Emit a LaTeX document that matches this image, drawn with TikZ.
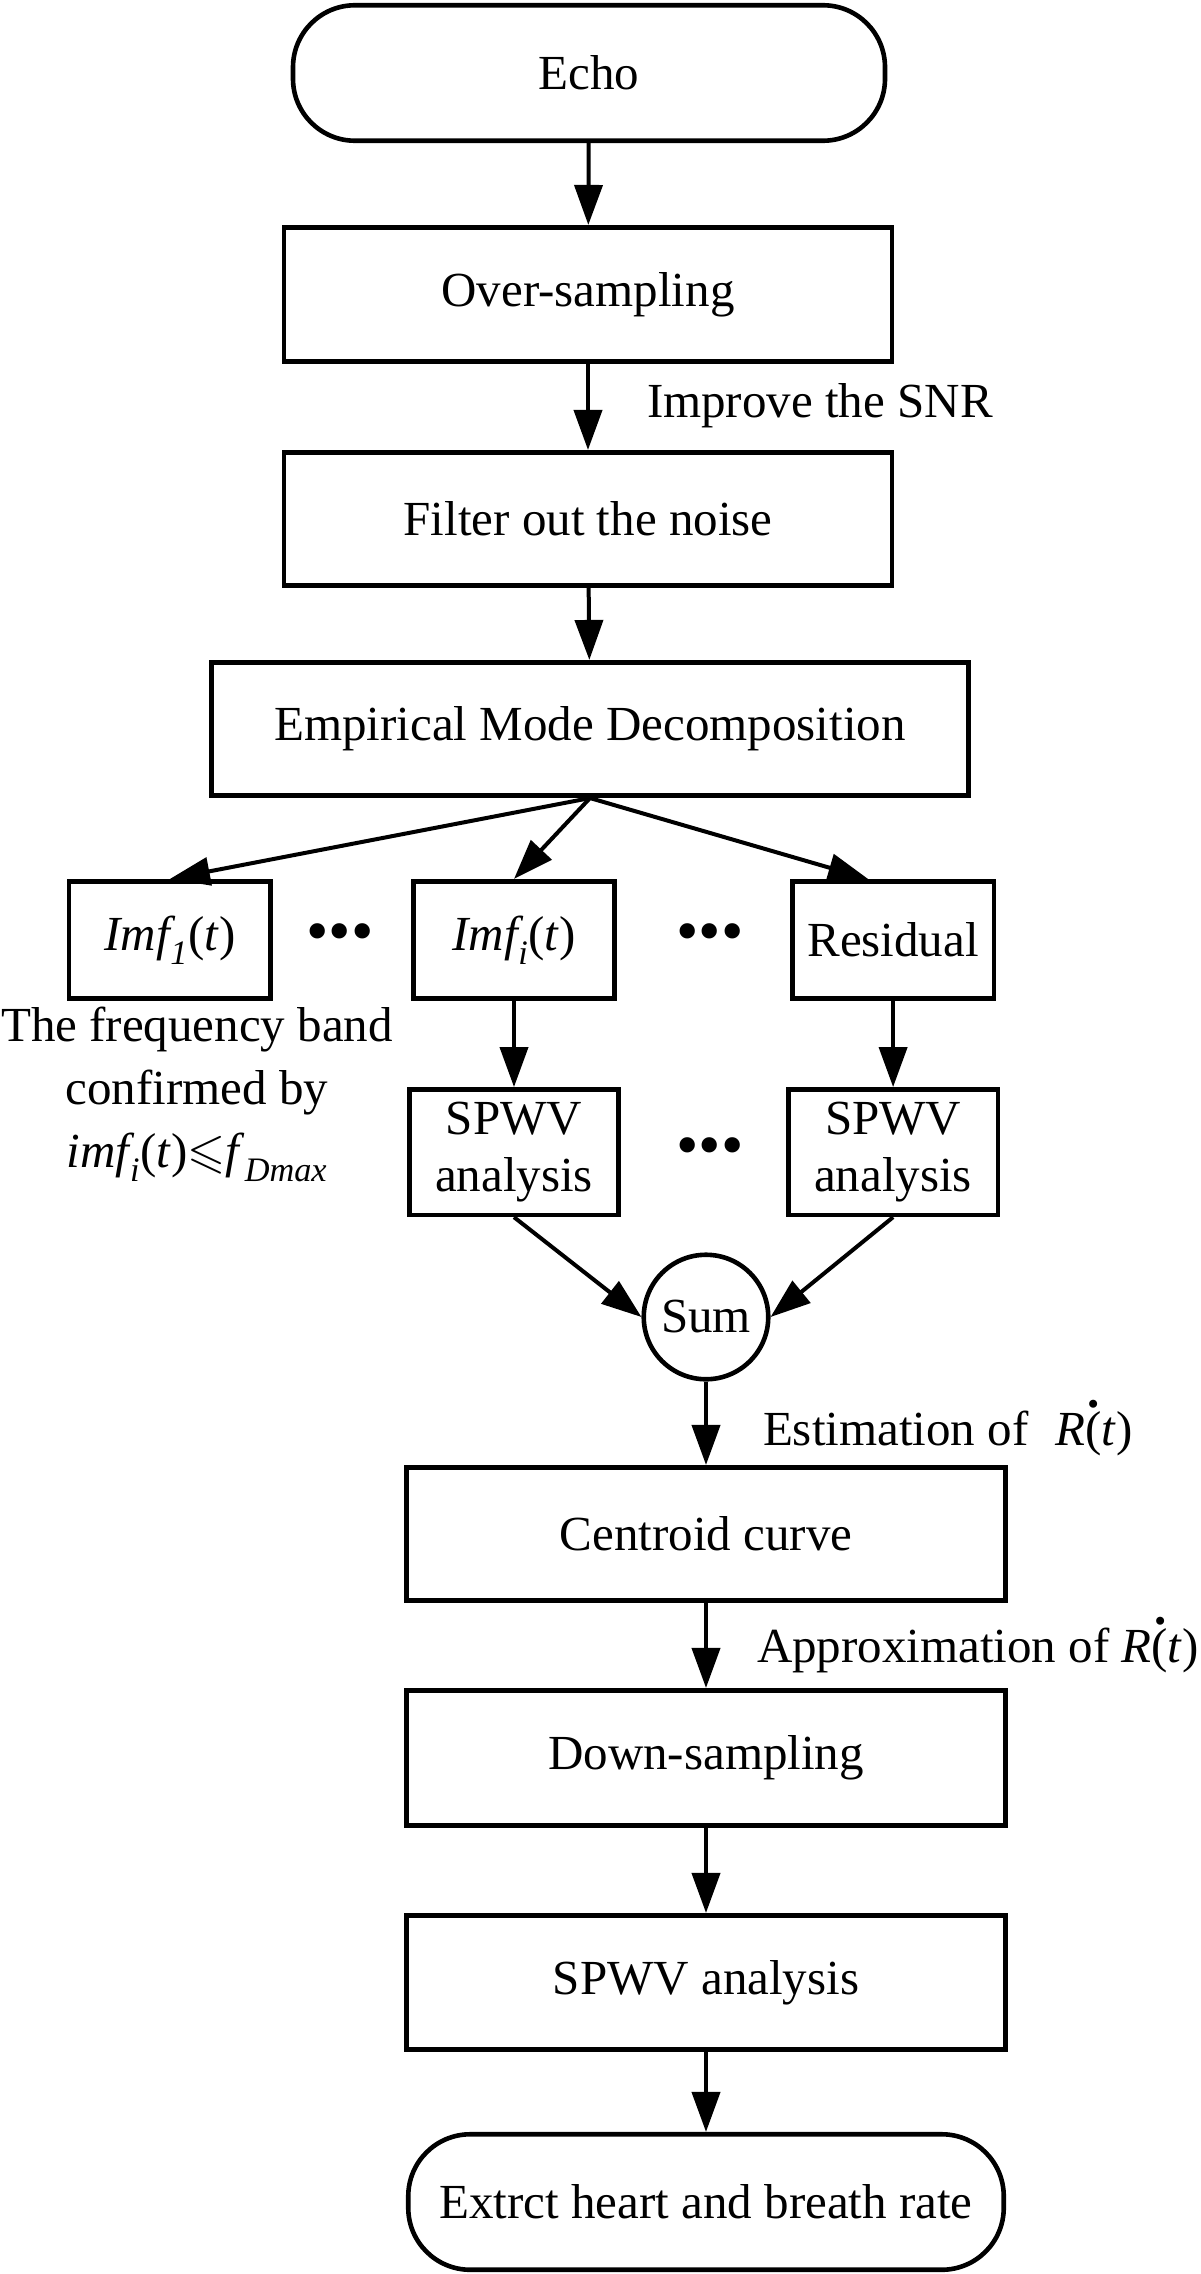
\documentclass[tikz,border=0pt]{standalone}
\usepackage{fontspec}
\setmainfont{Liberation Serif}
\usepackage{amssymb}
\usetikzlibrary{arrows.meta,positioning}

\newcommand{\Rdt}{\textit{R}\rlap{\raisebox{0.77em}{\kern0.05em\textbf{.}}}(\textit{t})}
\newcommand{\imfsub}[2]{\textit{#1}\kern-0.1em\textsubscript{\textit{#2}}}

\begin{document}
\begin{tikzpicture}[
        x=1pt, y=-1pt,
        node distance=86pt and 138pt,
        every node/.style={font=\fontsize{49}{57}\selectfont, inner sep=0pt, align=center},
        every path/.style={line width=4pt},
        block/.style={draw, line width=4.6pt, minimum width=608pt, minimum height=134.5pt},
        terminal/.style={block, rounded corners=62pt},
        lowblock/.style={block, minimum width=599.5pt},
        branch/.style={block, minimum width=201.5pt, minimum height=117.5pt},
        spwvbox/.style={block, minimum width=209.5pt, minimum height=125.5pt},
        sumnode/.style={draw, circle, line width=4.6pt, minimum size=124.5pt},
        flow/.style={-{Triangle[length=40pt,width=28pt]}},
        note/.style={anchor=base west},
        dots/.style={font=\fontsize{64}{64}\selectfont}
    ]
    \useasboundingbox (0,0) rectangle (1200,2274);

    % Nodes
    \node[terminal, minimum width=592pt, minimum height=135.5pt] (echo) at (589,73) {Echo};
    \node[block] (over) at (588,294.5) {Over-sampling};
    \node[block, minimum height=133.5pt] (filter) at (588,519) {Filter out the noise};
    \node[block, minimum width=757.5pt, minimum height=133.5pt] (emd) at (590,729) {Empirical Mode Decomposition};

    \node[branch] (imfi) at (514,940) {\imfsub{Imf}{i}(\textit{t})};
    \node[branch, left=138pt of imfi] (imf1) {\imfsub{Imf}{1}(\textit{t})};
    \node[branch, right=173pt of imfi] (res) {Residual};
    \node[dots] (dotsa) at (340,938) {\textbullet\textbullet\textbullet};
    \node[dots] (dotsb) at (710,938) {\textbullet\textbullet\textbullet};

    \node[font=\fontsize{49}{63}\selectfont] (band) at (197,1094)
        {The frequency band\\confirmed by\\\imfsub{imf}{i}(\textit{t})$\leqslant$\textit{f}\textsubscript{\textit{Dmax}}};

    \node[spwvbox, below=of imfi] (spwvi) {SPWV\\analysis};
    \node[spwvbox, below=of res] (spwvr) {SPWV\\analysis};
    \node[dots] (dotsc) at (710,1152) {\textbullet\textbullet\textbullet};

    \node[sumnode] (sum) at (706,1317) {Sum};
    \node[lowblock, minimum height=133.5pt] (centroid) at (706,1534) {Centroid curve};
    \node[lowblock, minimum height=135.5pt] (down) at (706,1758) {Down-sampling};
    \node[lowblock] (spwv) at (706,1982.5) {SPWV analysis};
    \node[terminal, minimum width=595.5pt, minimum height=135.5pt] (extract) at (706,2202) {Extrct heart and breath rate};

    % Labels
    \node[note] (snr) at (645,417) {Improve the SNR};
    \node[note] (est) at (761,1445) {Estimation of\hspace{0.3em} \Rdt};
    \node[note] (approx) at (755,1662) {Approximation of \Rdt};

    % Connectors
    \draw[flow] (echo) -- (over);
    \draw[flow] (over) -- (filter);
    \draw[flow] (filter) -- (emd);
    \draw[flow] (emd.south) -- (imf1.north);
    \draw[flow] (emd.south) -- (imfi.north);
    \draw[flow] (emd.south) -- ([xshift=-25pt]res.north);
    \draw[flow] (imfi) -- (spwvi);
    \draw[flow] (res) -- (spwvr);
    \draw[flow] (spwvi.south) -- (sum.west);
    \draw[flow] (spwvr.south) -- (sum.east);
    \draw[flow] (sum) -- (centroid);
    \draw[flow] (centroid) -- (down);
    \draw[flow] (down) -- (spwv);
    \draw[flow] (spwv) -- (extract);

\end{tikzpicture}
\end{document}
